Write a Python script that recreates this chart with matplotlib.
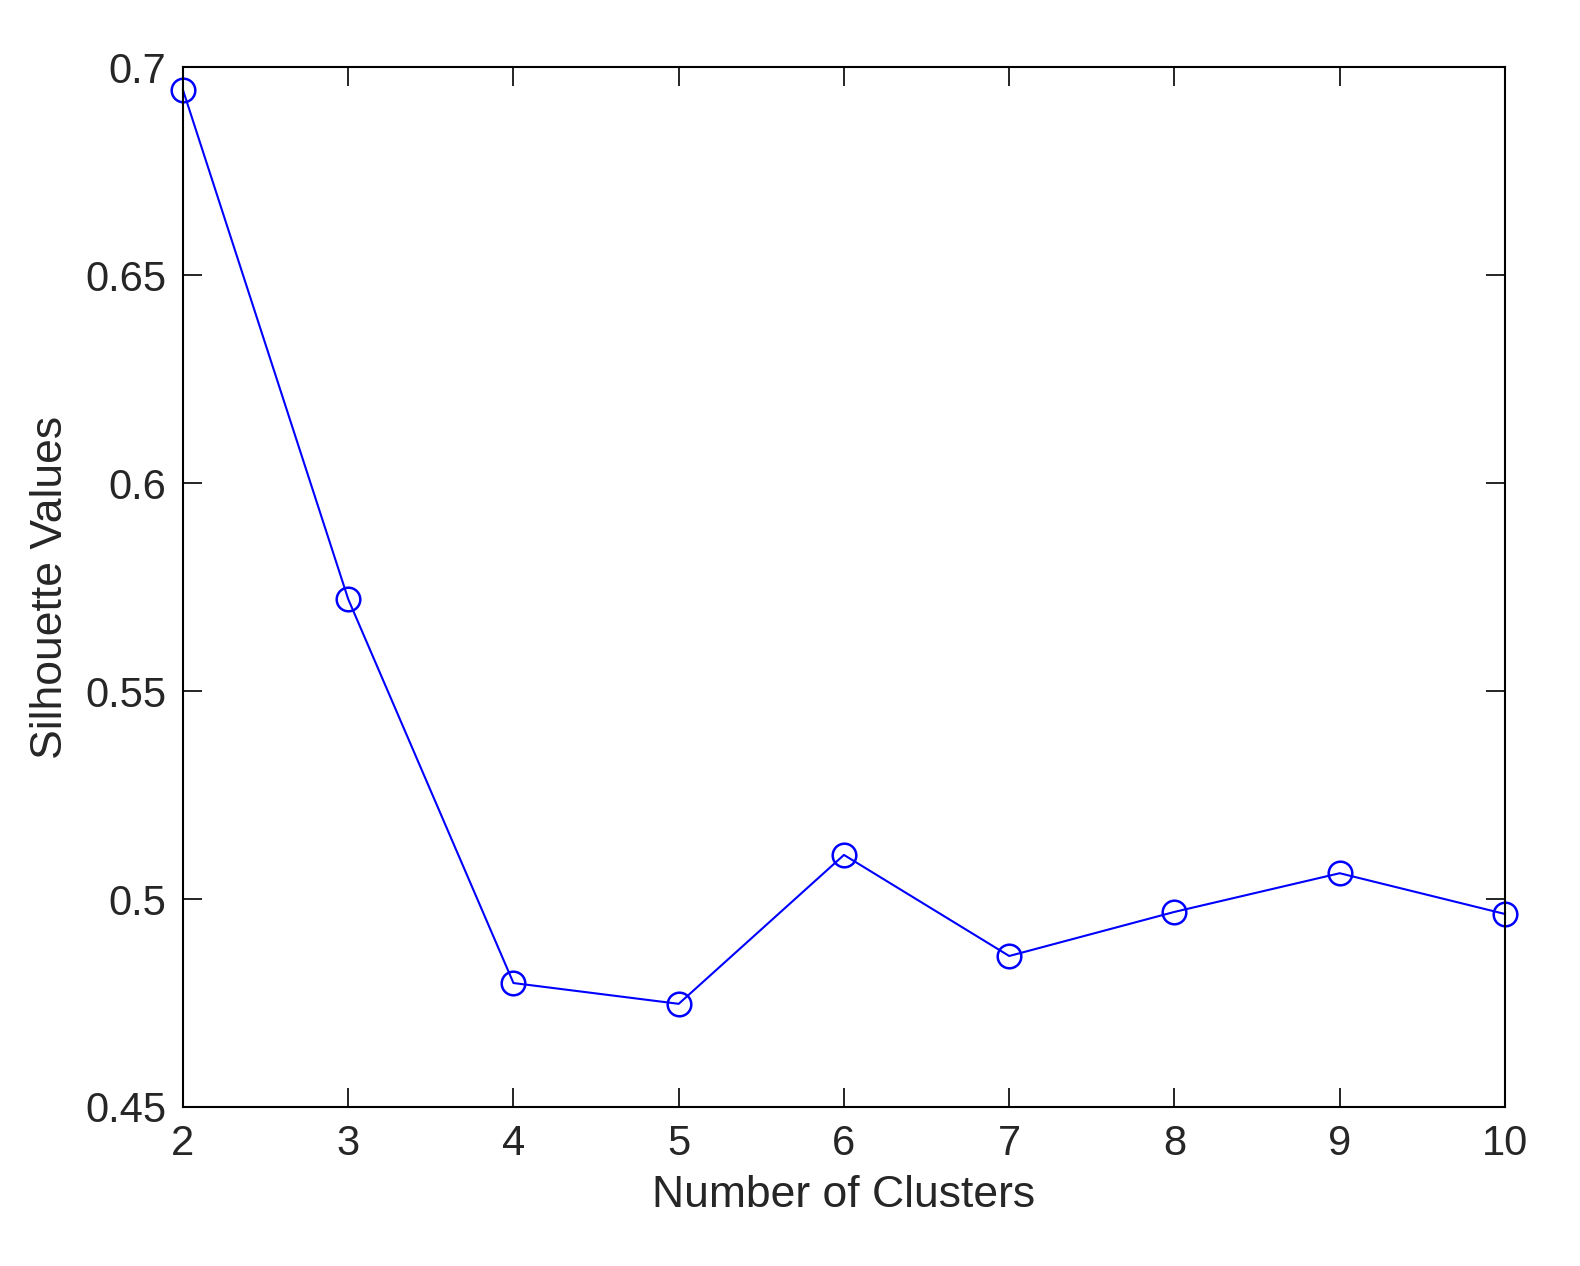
import matplotlib
matplotlib.use("Agg")
import matplotlib.pyplot as plt

clusters = [2, 3, 4, 5, 6, 7, 8, 9, 10]
silhouette = [0.6945, 0.5721, 0.4798, 0.4748, 0.5106, 0.4863, 0.4969, 0.5062, 0.4964]
yticks = [0.45, 0.5, 0.55, 0.6, 0.65, 0.7]
ytick_labels = ["0.45", "0.5", "0.55", "0.6", "0.65", "0.7"]

plt.rcParams['font.family'] = ['Liberation Sans', 'DejaVu Sans']
fig = plt.figure(figsize=(15.8, 12.66), dpi=100)
ax = fig.add_axes([0.1158, 0.1256, 0.9525 - 0.1158, 0.947 - 0.1256])
ax.plot(clusters, silhouette, color='#0000ff', lw=1.5, marker='o', ms=17,
        mfc='none', mec='#0000ff', mew=1.8, clip_on=False)
ax.set_xlim(2, 10)
ax.set_ylim(0.45, 0.7)
ax.set_xticks(clusters)
ax.set_yticks(yticks)
ax.set_yticklabels(ytick_labels)
ax.tick_params(direction='in', top=True, right=True, length=14, width=1.2,
               labelsize=30, labelcolor='#262626', pad=12)
for s in ax.spines.values():
    s.set_linewidth(1.5)
ax.set_xlabel("Number of Clusters", fontsize=32, color='#262626', labelpad=8)
ax.set_ylabel("Silhouette Values", fontsize=32, color='#262626', labelpad=10)
fig.savefig("out.png", dpi=100)
